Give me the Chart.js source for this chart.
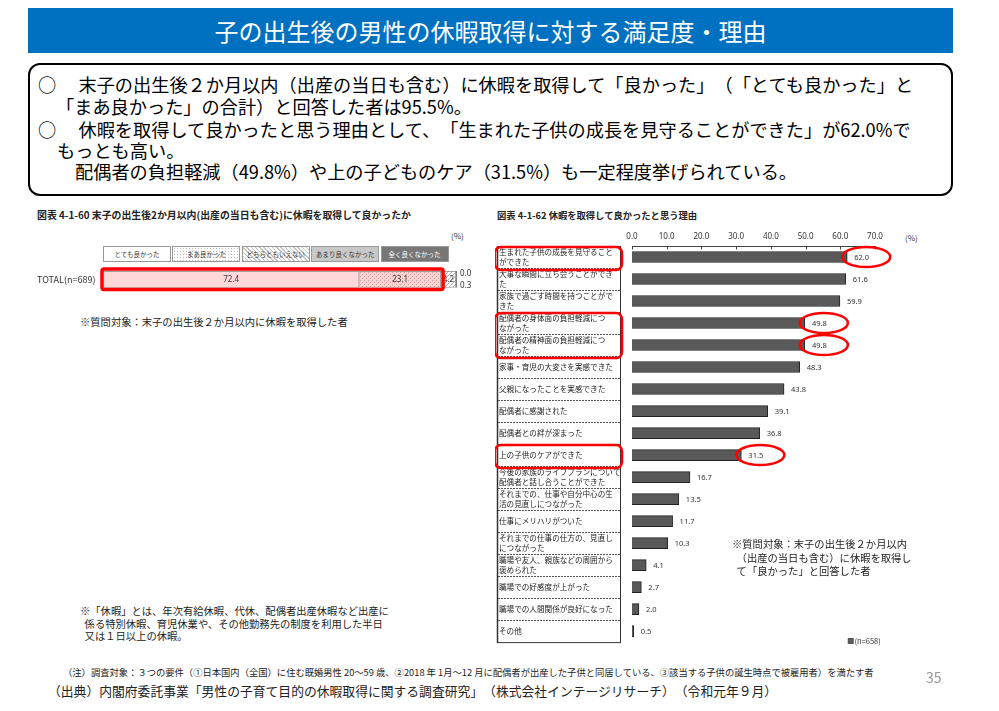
<!DOCTYPE html>
<html lang="ja">
<head>
<meta charset="utf-8">
<script src="https://cdn.jsdelivr.net/npm/chart.js@4.4.1/dist/chart.umd.min.js"></script>
<style>
  body { margin:0; width:999px; height:711px; position:relative; background:#fff; overflow:hidden;
         font-family:"Noto Sans CJK JP","Noto Sans",sans-serif; color:#000; text-spacing-trim:space-all; }
  .abs { position:absolute; white-space:nowrap; }
  #titleBar { left:28px; top:8px; width:925px; height:45px; background:#0070c0; color:#fff;
              font-size:24px; line-height:45px; text-align:center; }
  #box { left:28px; top:63px; width:921px; height:129px; border:2px solid #000; border-radius:12px; }
  .ln { font-size:18.2px; line-height:22px; }
  .fig { font-weight:bold; color:#222; }
  .small { font-size:10.3px; line-height:12.5px; color:#222; }
  .leg { position:absolute; top:246px; height:16px; width:68px; border:1px solid #999; box-sizing:border-box;
         font-size:6.5px; line-height:15px; text-align:center; color:#333; white-space:nowrap; overflow:hidden; }
</style>
</head>
<body>
<div id="titleBar" class="abs">子の出生後の男性の休暇取得に対する満足度・理由</div>
<div id="box" class="abs"></div>
<div class="abs ln" style="left:38px;top:73px">○　 末子の出生後２か月以内（出産の当日も含む）に休暇を取得して「良かった」（「とても良かった」と</div>
<div class="abs ln" style="left:56px;top:95px">「まあ良かった」の合計）と回答した者は95.5%。</div>
<div class="abs ln" style="left:38px;top:118px">○　 休暇を取得して良かったと思う理由として、「生まれた子供の成長を見守ることができた」が62.0%で</div>
<div class="abs ln" style="left:57px;top:139px">もっとも高い。</div>
<div class="abs ln" style="left:75px;top:160px">配偶者の負担軽減（49.8%）や上の子どものケア（31.5%）も一定程度挙げられている。</div>

<div class="abs fig" style="left:37px;top:208px;font-size:9.9px">図表 4-1-60  末子の出生後2か月以内(出産の当日も含む)に休暇を取得して良かったか</div>
<div class="abs" style="left:451px;top:230px;font-size:8px;color:#333">(%)</div>
<div id="legendRow"></div>
<canvas id="leftChart" class="abs" style="left:30px;top:262px"></canvas>
<div class="abs small" style="left:80px;top:316px">※質問対象：末子の出生後２か月以内に休暇を取得した者</div>
<div class="abs small" style="left:80px;top:605px">※「休暇」とは、年次有給休暇、代休、配偶者出産休暇など出産に<br>&nbsp;&nbsp;係る特別休暇、育児休業や、その他勤務先の制度を利用した半日<br>&nbsp;&nbsp;又は１日以上の休暇。</div>

<div class="abs fig" style="left:497px;top:208px;font-size:9.3px">図表 4-1-62  休暇を取得して良かったと思う理由</div>
<div class="abs" style="left:905px;top:232px;font-size:8px;color:#333">(%)</div>
<canvas id="rightChart" class="abs" style="left:495px;top:226px"></canvas>
<div class="abs small" style="left:732px;top:537px;line-height:13.5px">※質問対象：末子の出生後２か月以内<br>&nbsp;&nbsp;（出産の当日も含む）に休暇を取得し<br>&nbsp;&nbsp;て「良かった」と回答した者</div>
<div class="abs" style="left:847px;top:635px;font-size:7.5px;color:#333"><span style="color:#595959">■</span>(n=658)</div>

<div class="abs" style="left:63px;top:665px;font-size:9.3px;color:#222">（注）調査対象：３つの要件（①日本国内（全国）に住む既婚男性 20～59 歳、②2018 年 1月～12 月に配偶者が出産した子供と同居している、③該当する子供の誕生時点で被雇用者）を満たす者</div>
<div class="abs" style="left:48px;top:681px;font-size:12.8px;color:#222">（出典）内閣府委託事業「男性の子育て目的の休暇取得に関する調査研究」（株式会社インテージリサーチ）（令和元年９月）</div>
<div class="abs" style="left:926px;top:667px;font-size:14px;color:#999">35</div>

<script>
// left chart data
const satisfactionCats = ['とても良かった', 'まあ良かった', 'どちらともいえない', 'あまり良くなかった', '全く良くなかった'];
const satisfactionValues = [72.4, 23.1, 4.2, 0.0, 0.3];
const totalLabel = 'TOTAL(n=689)';

// right chart data
const reasonLabels = [
  ['生まれた子供の成長を見守ること', 'ができた'],
  ['大事な瞬間に立ち会うことができ', 'た'],
  ['家族で過ごす時間を持つことがで', 'きた'],
  ['配偶者の身体面の負担軽減につ', 'ながった'],
  ['配偶者の精神面の負担軽減につ', 'ながった'],
  '家事・育児の大変さを実感できた',
  '父親になったことを実感できた',
  '配偶者に感謝された',
  '配偶者との絆が深まった',
  '上の子供のケアができた',
  ['今後の家族のライフプランについて', '配偶者と話し合うことができた'],
  ['それまでの、仕事や自分中心の生', '活の見直しにつながった'],
  '仕事にメリハリがついた',
  ['それまでの仕事の仕方の、見直し', 'につながった'],
  ['職場や友人、親族などの周囲から', '褒められた'],
  '職場での好感度が上がった',
  '職場での人間関係が良好になった',
  'その他'
];
const reasonValues = [62.0, 61.6, 59.9, 49.8, 49.8, 48.3, 43.8, 39.1, 36.8, 31.5, 16.7, 13.5, 11.7, 10.3, 4.1, 2.7, 2.0, 0.5];
const highlightRows = [[0, 0], [3, 4], [9, 9]];
const circledRows = [0, 3, 4, 9];

// small fill patterns
function makePattern(bg, fg, kind) {
  const c = document.createElement('canvas');
  c.width = 4; c.height = 4;
  const g = c.getContext('2d');
  g.fillStyle = bg; g.fillRect(0, 0, 4, 4);
  g.fillStyle = fg;
  if (kind === 'dots') { g.fillRect(0, 0, 1, 1); g.fillRect(2, 2, 1, 1); }
  else { g.fillRect(0, 3, 1, 1); g.fillRect(1, 2, 1, 1); g.fillRect(2, 1, 1, 1); g.fillRect(3, 0, 1, 1); }
  return g.createPattern(c, 'repeat');
}

// legend boxes above the left bar
const legendBg = ['#fff',
  '#fff radial-gradient(#bbb 0.6px, transparent 0.9px) 0 0/3px 3px',
  'repeating-linear-gradient(45deg, #c4c4c4 0 1px, #fff 1px 3px)',
  '#c8c8c8', '#777'];
satisfactionCats.forEach((name, i) => {
  const d = document.createElement('div');
  d.className = 'leg';
  d.style.left = (103 + i * 69.4) + 'px';
  d.style.background = legendBg[i];
  if (i === 4) d.style.color = '#fff';
  d.textContent = name;
  document.getElementById('legendRow').appendChild(d);
});

const leftColors = ['#ffd9d9', makePattern('#fbd2d2', '#c89a9a', 'dots'), makePattern('#fff', '#aaa', 'hatch'), '#c8c8c8', '#777'];

const leftPlugin = {
  id: 'leftExtras',
  afterDatasetsDraw(chart) {
    const ctx = chart.ctx;
    const a = chart.chartArea;
    ctx.save();
    ctx.font = '8px "Noto Sans", sans-serif';
    ctx.fillStyle = '#333';
    ctx.textAlign = 'center';
    ctx.textBaseline = 'middle';
    for (let i = 0; i < 3; i++) {
      const el = chart.getDatasetMeta(i).data[0];
      ctx.fillText(satisfactionValues[i].toFixed(1), (el.x + el.base) / 2, el.y + 0.5);
    }
    ctx.textAlign = 'left';
    ctx.fillText(satisfactionValues[3].toFixed(1), a.right + 3, a.top + 3);
    ctx.fillText(satisfactionValues[4].toFixed(1), a.right + 3, a.bottom - 2);
    // red highlight round the "good" answers
    const e0 = chart.getDatasetMeta(0).data[0];
    const e1 = chart.getDatasetMeta(1).data[0];
    ctx.strokeStyle = '#ff0000';
    ctx.lineWidth = 3.5;
    ctx.beginPath();
    ctx.roundRect(e0.base - 1, a.top - 2, e1.x - e0.base + 3, a.bottom - a.top + 4, 2);
    ctx.stroke();
    ctx.restore();
  }
};

const lc = document.getElementById('leftChart');
lc.width = 450; lc.height = 34;
new Chart(lc, {
  type: 'bar',
  data: {
    labels: [totalLabel],
    datasets: satisfactionValues.map((v, i) => ({
      label: satisfactionCats[i],
      data: [v],
      backgroundColor: leftColors[i],
      borderColor: '#888',
      borderWidth: 1,
      barPercentage: 1,
      categoryPercentage: 1
    }))
  },
  options: {
    indexAxis: 'y',
    responsive: false,
    animation: false,
    devicePixelRatio: 1,
    layout: { padding: { left: 7, right: 23, top: 9, bottom: 8 } },
    plugins: { legend: { display: false }, tooltip: { enabled: false } },
    scales: {
      x: { stacked: true, display: false, min: 0, max: 100 },
      y: {
        stacked: true,
        grid: { display: false, drawTicks: false },
        border: { display: false },
        ticks: { crossAlign: 'far', color: '#333', font: { size: 9, family: '"Noto Sans CJK JP", sans-serif' } },
        afterFit(s) { s.width = 66; }
      }
    }
  },
  plugins: [leftPlugin]
});

const rightPlugin = {
  id: 'rightExtras',
  beforeDatasetsDraw(chart) {
    const ctx = chart.ctx;
    const a = chart.chartArea;
    const xs = chart.scales.x;
    const rowH = (a.bottom - a.top) / reasonValues.length;
    ctx.save();
    // label box with dashed separators
    ctx.strokeStyle = '#555';
    ctx.lineWidth = 1;
    ctx.setLineDash([2, 1]);
    for (let i = 1; i < reasonValues.length; i++) {
      const y = Math.round(a.top + i * rowH) + 0.5;
      ctx.beginPath(); ctx.moveTo(3, y); ctx.lineTo(125, y); ctx.stroke();
    }
    ctx.setLineDash([]);
    ctx.strokeStyle = '#333';
    ctx.strokeRect(2.5, a.top + 0.5, 123, a.bottom - a.top);
    ctx.lineWidth = 1.5;
    ctx.beginPath(); ctx.moveTo(2.5, a.top); ctx.lineTo(2.5, a.bottom + 1); ctx.stroke();
    // top axis line with inward ticks
    ctx.lineWidth = 1;
    ctx.strokeStyle = '#444';
    const y0 = a.top + 0.5;
    ctx.beginPath(); ctx.moveTo(xs.getPixelForValue(0), y0); ctx.lineTo(xs.getPixelForValue(70) + 1, y0); ctx.stroke();
    xs.ticks.forEach(t => {
      const x = Math.round(xs.getPixelForValue(t.value)) + 0.5;
      ctx.beginPath(); ctx.moveTo(x, y0); ctx.lineTo(x, y0 + 3); ctx.stroke();
    });
    ctx.restore();
  },
  afterDatasetsDraw(chart) {
    const ctx = chart.ctx;
    const a = chart.chartArea;
    const rowH = (a.bottom - a.top) / reasonValues.length;
    const bars = chart.getDatasetMeta(0).data;
    ctx.save();
    ctx.font = '7.5px "Noto Sans", sans-serif';
    ctx.fillStyle = '#333';
    ctx.textBaseline = 'middle';
    bars.forEach((el, i) => {
      ctx.fillText(reasonValues[i].toFixed(1), el.x + 7, el.y + 0.5);
    });
    ctx.strokeStyle = '#ff0000';
    ctx.lineWidth = 2.5;
    highlightRows.forEach(([s, e]) => {
      const top = a.top + s * rowH;
      const bot = a.top + (e + 1) * rowH;
      ctx.beginPath();
      ctx.roundRect(0, top + 1, 127, bot - top + 1, 6);
      ctx.stroke();
    });
    circledRows.forEach(i => {
      const el = bars[i];
      ctx.beginPath();
      ctx.ellipse(el.x + 19, el.y, 24, 10, 0, 0, Math.PI * 2);
      ctx.stroke();
    });
    ctx.restore();
  }
};

const rc = document.getElementById('rightChart');
rc.width = 435; rc.height = 426;
new Chart(rc, {
  type: 'bar',
  data: {
    labels: reasonLabels,
    datasets: [{
      label: '(n=658)',
      data: reasonValues,
      backgroundColor: '#595959',
      borderColor: '#222',
      borderWidth: 1,
      barThickness: 11
    }]
  },
  options: {
    indexAxis: 'y',
    responsive: false,
    animation: false,
    devicePixelRatio: 1,
    layout: { padding: { left: 4, right: 55, top: 0, bottom: 0 } },
    plugins: { legend: { display: false }, tooltip: { enabled: false } },
    scales: {
      x: {
        position: 'top',
        min: 0, max: 70,
        grid: { display: false, drawTicks: false },
        border: { display: false },
        ticks: { stepSize: 10, padding: 4, color: '#333', font: { size: 8, family: '"Noto Sans", sans-serif' },
                 callback: v => v.toFixed(1) },
        afterFit(s) { s.height = 20; }
      },
      y: {
        grid: { display: false, drawTicks: false },
        border: { display: false },
        ticks: { crossAlign: 'far', color: '#222', autoSkip: false, padding: 0,
                 font: { size: 7.6, lineHeight: 1.3, family: '"Noto Sans CJK JP", sans-serif' } },
        afterFit(s) { s.width = 133; }
      }
    }
  },
  plugins: [rightPlugin]
});
</script>
</body>
</html>
